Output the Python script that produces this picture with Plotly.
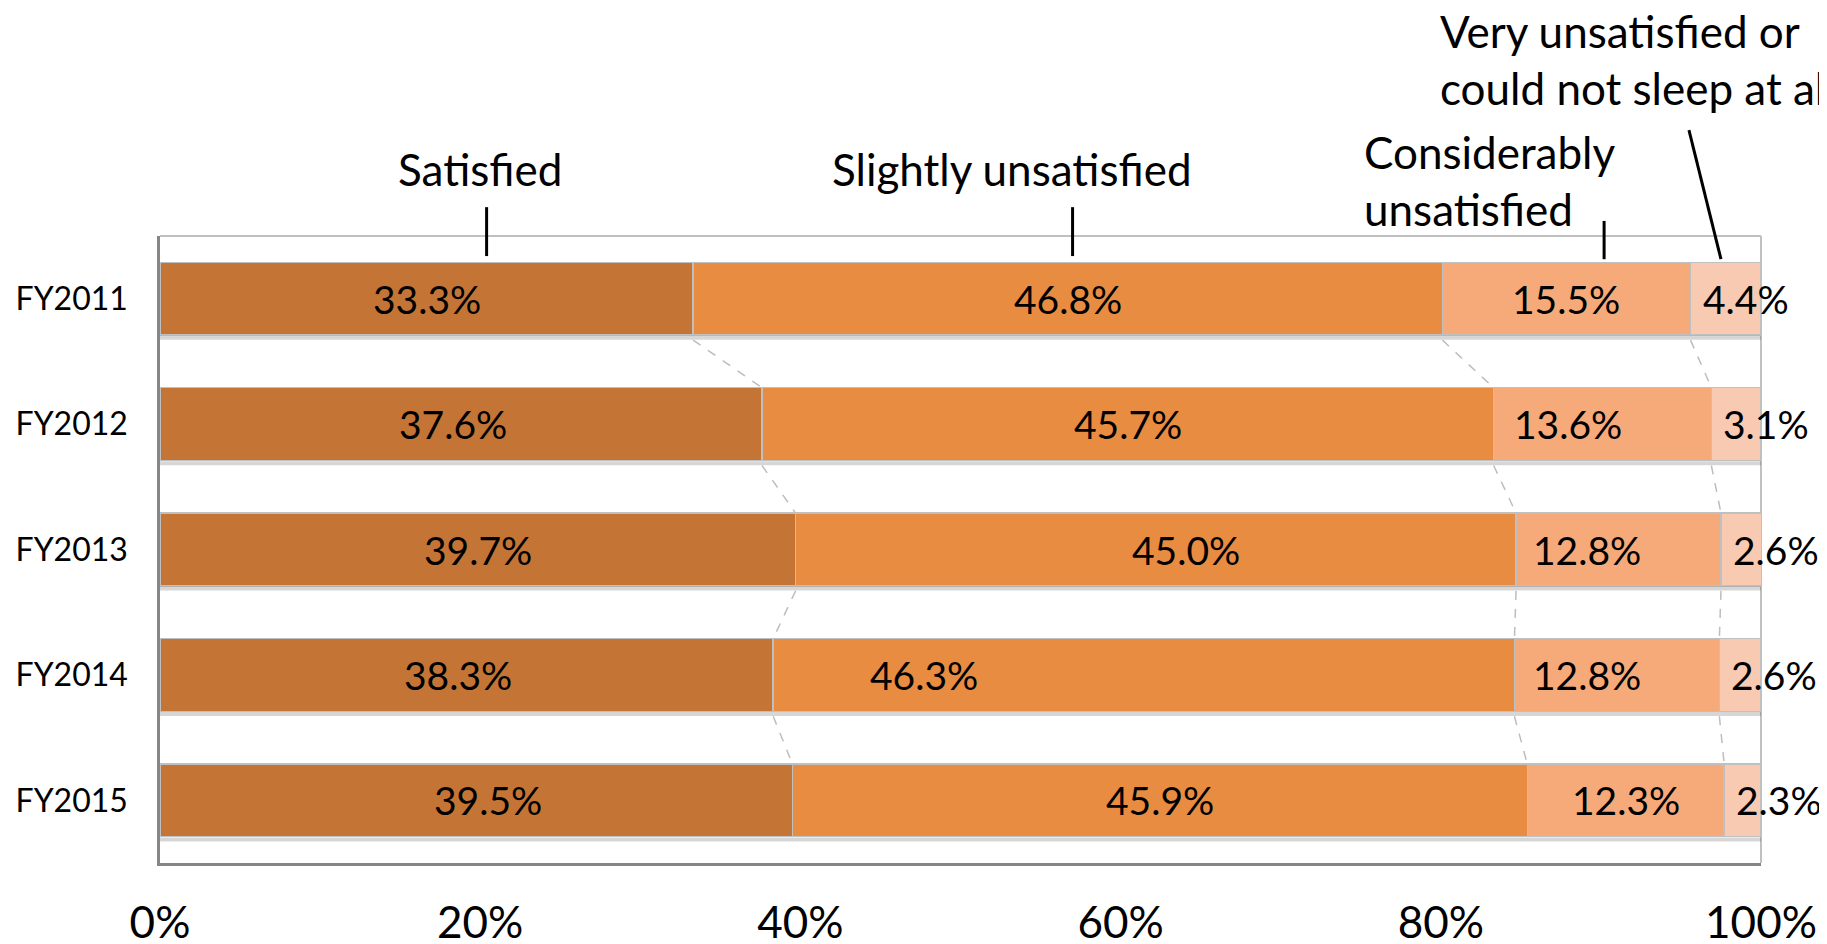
import plotly.graph_objects as go
import numpy as np

# ---- data ----
years = ["FY2011", "FY2012", "FY2013", "FY2014", "FY2015"]
satisfied = [33.3, 37.6, 39.7, 38.3, 39.5]
slightly_unsatisfied = [46.8, 45.7, 45.0, 46.3, 45.9]
considerably_unsatisfied = [15.5, 13.6, 12.8, 12.8, 12.3]
very_unsatisfied = [4.4, 3.1, 2.6, 2.6, 2.3]
series_names = ["Satisfied", "Slightly unsatisfied", "Considerably<br>unsatisfied",
                "Very unsatisfied or<br>could not sleep at all"]
tick_vals = [0, 20, 40, 60, 80, 100]
tick_text = ["0%", "20%", "40%", "60%", "80%", "100%"]

# ---- style ----
colors = ["#C47535", "#E88C42", "#F6AA79", "#F8CAB1"]
FONT = "Lato"
BAR_W = 0.58
# manual label nudges (pixels) as in the original
label_dx = [
    [0, -8, 0, -9, 12],
    [0, 0, 30, -220, 0],
    [0, -35, -32, -30, 0],
]

series = [satisfied, slightly_unsatisfied, considerably_unsatisfied, very_unsatisfied]
ypos = list(range(len(years)))
total = np.sum(np.array(series), axis=0)

fig = go.Figure()
for k, vals in enumerate(series):
    fig.add_trace(go.Bar(
        y=ypos, x=vals, orientation="h", width=BAR_W,
        marker=dict(color=colors[k], line=dict(color="#C0C0C0", width=1.5)),
        name=series_names[k], showlegend=False, hoverinfo="skip",
    ))

# soft shadow under each bar
for i in ypos:
    fig.add_trace(go.Scatter(
        x=[0, min(total[i], 100)], y=[i + BAR_W / 2 + 0.022, i + BAR_W / 2 + 0.022],
        mode="lines", line=dict(color="rgba(0,0,0,0.16)", width=4),
        showlegend=False, hoverinfo="skip",
    ))

# connector lines between consecutive bars
cum = np.cumsum(np.array(series), axis=0)  # shape (4, n)
for k in range(len(series) - 1):
    for i in range(len(years) - 1):
        fig.add_trace(go.Scatter(
            x=[cum[k][i], cum[k][i + 1]],
            y=[ypos[i] + BAR_W / 2 + 0.04, ypos[i + 1] - BAR_W / 2],
            mode="lines", line=dict(color="#BDBDBD", width=1.5, dash="dash"),
            showlegend=False, hoverinfo="skip",
        ))

annotations = []
lbl_font = dict(family=FONT, size=39, color="black")
# data labels
for k, vals in enumerate(series):
    for i, v in enumerate(vals):
        start = cum[k][i] - v
        if k < 3:
            annotations.append(dict(
                x=start + v / 2, y=ypos[i], xref="x", yref="y",
                xanchor="center", yanchor="middle",
                text=f"{v:.1f}%", showarrow=False, xshift=label_dx[k][i],
                font=lbl_font,
            ))
        else:
            annotations.append(dict(
                x=start, y=ypos[i], xref="x", yref="y", xanchor="left", yanchor="middle",
                text=f"{v:.1f}%", showarrow=False, xshift=10,
                font=lbl_font,
            ))

# category header labels
hdr_font = dict(family=FONT, size=44, color="black")
annotations += [
    dict(x=0.20, y=1.107, xref="paper", yref="paper", text=series_names[0],
         xanchor="center", yanchor="middle", showarrow=False, font=hdr_font),
    dict(x=0.532, y=1.107, xref="paper", yref="paper", text=series_names[1],
         xanchor="center", yanchor="middle", showarrow=False, font=hdr_font),
    dict(x=0.751, y=1.088, xref="paper", yref="paper", text=series_names[2],
         showarrow=False, font=hdr_font, xanchor="left", yanchor="middle", align="left"),
    dict(x=0.798, y=1.281, xref="paper", yref="paper", text=series_names[3],
         showarrow=False, font=hdr_font, xanchor="left", yanchor="middle", align="left"),
]

shapes = [
    # leader lines
    dict(type="line", xref="paper", yref="paper", x0=0.204, x1=0.204, y0=1.046, y1=0.968,
         line=dict(color="black", width=3)),
    dict(type="line", xref="paper", yref="paper", x0=0.570, x1=0.570, y0=1.046, y1=0.968,
         line=dict(color="black", width=3)),
    dict(type="line", xref="paper", yref="paper", x0=0.902, x1=0.902, y0=1.024, y1=0.963,
         line=dict(color="black", width=3)),
    dict(type="line", xref="paper", yref="paper", x0=0.955, x1=0.975, y0=1.169, y1=0.963,
         line=dict(color="black", width=3)),
    # light frame top / right
    dict(type="line", xref="paper", yref="paper", x0=0, x1=1, y0=1, y1=1,
         line=dict(color="#C0C0C0", width=2), layer="below"),
    dict(type="line", xref="paper", yref="paper", x0=1, x1=1, y0=0, y1=1,
         line=dict(color="#C0C0C0", width=2), layer="below"),
]

fig.update_layout(
    width=1827, height=944,
    margin=dict(l=152, r=74, t=228, b=89, autoexpand=False),
    barmode="stack",
    plot_bgcolor="white", paper_bgcolor="white",
    font=dict(family=FONT, color="black"),
    annotations=annotations, shapes=shapes,
    xaxis=dict(range=[0, 100], tickvals=tick_vals, ticktext=tick_text,
               showgrid=False, zeroline=False, showline=True, linecolor="#868686",
               linewidth=2.5, ticks="", tickfont=dict(family=FONT, size=44),
               ticklabelstandoff=19, automargin=False),
    yaxis=dict(range=[len(years) - 0.5, -0.5], tickvals=ypos, ticktext=years,
               showgrid=False, zeroline=False, showline=True, linecolor="#868686",
               linewidth=2.5, ticks="", tickfont=dict(family=FONT, size=32),
               ticklabelstandoff=23, automargin=False),
)

fig.write_html("out.html")
